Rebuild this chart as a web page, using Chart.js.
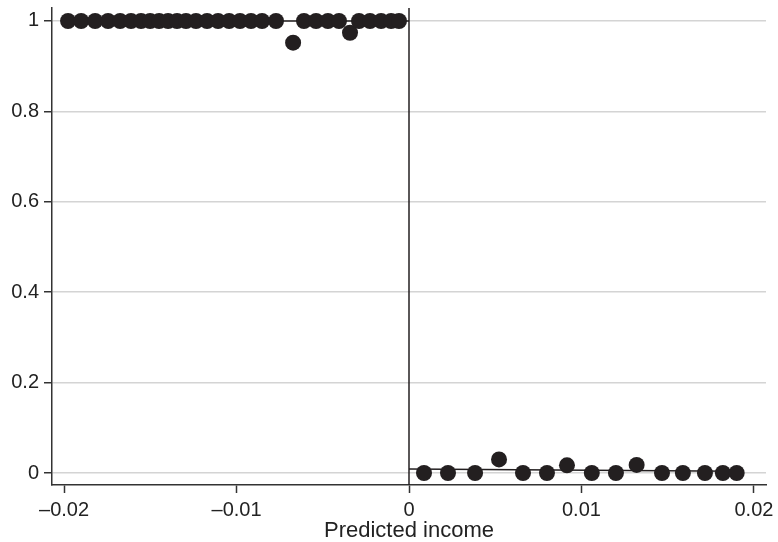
<!DOCTYPE html>
<html>
<head>
<meta charset="utf-8">
<script src="https://cdn.jsdelivr.net/npm/chart.js@4.4.1/dist/chart.umd.min.js"></script>
<style>
html,body{margin:0;padding:0;background:#fff;}
#wrap{width:778px;height:542px;}
</style>
</head>
<body>
<div id="wrap"><canvas id="c" width="778" height="542"></canvas></div>
<script>
// Binned means, left of threshold
const leftX = [-0.01977,-0.01901,-0.0182,-0.01745,-0.01675,-0.01612,-0.01554,-0.01501,-0.01449,-0.01397,-0.01345,-0.01293,-0.01235,-0.01171,-0.01107,-0.01043,-0.0098,-0.00916,-0.00852,-0.00771,-0.00672,-0.00609,-0.00539,-0.0047,-0.00406,-0.00342,-0.0029,-0.00226,-0.00162,-0.00104,-0.00058];
const leftY = [1,1,1,1,1,1,1,1,1,1,1,1,1,1,1,1,1,1,1,1,0.952,1,1,1,1,0.974,1,1,1,1,1];
// Binned means, right of threshold
const rightX = [0.00087,0.00226,0.00383,0.00522,0.00661,0.008,0.00916,0.0106,0.012,0.0132,0.01467,0.01588,0.01716,0.0182,0.019];
const rightY = [0,0,0,0.03,0,0,0.017,0,0,0.018,0,0,0,0,0];
// Fitted lines
const fitLeftX = [-0.02, 0];
const fitLeftY = [1, 1];
const fitRightX = [0, 0.019];
const fitRightY = [0.009, 0.004];
// Threshold
const cutoffX = [0, 0];
const cutoffY = [-0.0265, 1.0287];
// Axes
const xTicks = [-0.02, -0.01, 0, 0.01, 0.02];
const yTicks = [0, 0.2, 0.4, 0.6, 0.8, 1];
const xTitle = "Predicted income";

const pts = (xs, ys) => xs.map((x, i) => ({x: x, y: ys[i]}));
const dotColor = '#231f20';
const font = {family: "'Liberation Sans', Arial, sans-serif", size: 20};

new Chart(document.getElementById('c'), {
  type: 'scatter',
  data: {
    datasets: [
      {data: pts(cutoffX, cutoffY), showLine: true, borderColor: '#231f20', borderWidth: 1.5, pointRadius: 0, order: 3},
      {data: pts(fitLeftX, fitLeftY), showLine: true, borderColor: '#231f20', borderWidth: 1.5, pointRadius: 0, order: 2},
      {data: pts(fitRightX, fitRightY), showLine: true, borderColor: '#231f20', borderWidth: 1.5, pointRadius: 0, order: 2},
      {data: pts(leftX, leftY), backgroundColor: dotColor, borderColor: dotColor, pointRadius: 8, borderWidth: 0, order: 1},
      {data: pts(rightX, rightY), backgroundColor: dotColor, borderColor: dotColor, pointRadius: 8, borderWidth: 0, order: 1}
    ]
  },
  options: {
    responsive: false,
    animation: false,
    events: [],
    layout: {padding: {top: 7, right: 12, left: 0, bottom: 0}},
    plugins: {legend: {display: false}, tooltip: {enabled: false}},
    scales: {
      x: {
        type: 'linear',
        min: -0.0207, max: 0.0207,
        afterBuildTicks: (ax) => { ax.ticks = xTicks.map(v => ({value: v})); },
        afterFit: (ax) => { ax.height = 57; ax.paddingLeft = 0; ax.paddingRight = 0; },
        border: {display: true, color: '#333', width: 1.5},
        grid: {drawOnChartArea: false, drawTicks: true, tickLength: 8, tickColor: '#333', tickWidth: 1.5},
        ticks: {
          color: '#222', font: font, padding: 5, maxRotation: 0, autoSkip: false,
          callback: (v) => v === 0 ? '0' : (v < 0 ? '\u2013' + Math.abs(v) : String(v))
        },
        title: {display: true, text: xTitle, color: '#222', font: {family: font.family, size: 22, lineHeight: 1}, padding: {top: 0, bottom: 0}}
      },
      y: {
        type: 'linear',
        min: -0.0265, max: 1.0287,
        afterBuildTicks: (ax) => { ax.ticks = yTicks.map(v => ({value: v})); },
        afterFit: (ax) => { ax.width = 52; ax.paddingTop = 0; ax.paddingBottom = 0; },
        border: {display: true, color: '#333', width: 1.5},
        grid: {color: '#d4d4d4', lineWidth: 1.5, drawTicks: true, tickLength: 8, tickColor: '#333', tickWidth: 1.5},
        ticks: {
          color: '#222', font: font, padding: 5, autoSkip: false,
          callback: (v) => v === 0 ? '0' : String(v)
        }
      }
    }
  }
});
</script>
</body>
</html>
